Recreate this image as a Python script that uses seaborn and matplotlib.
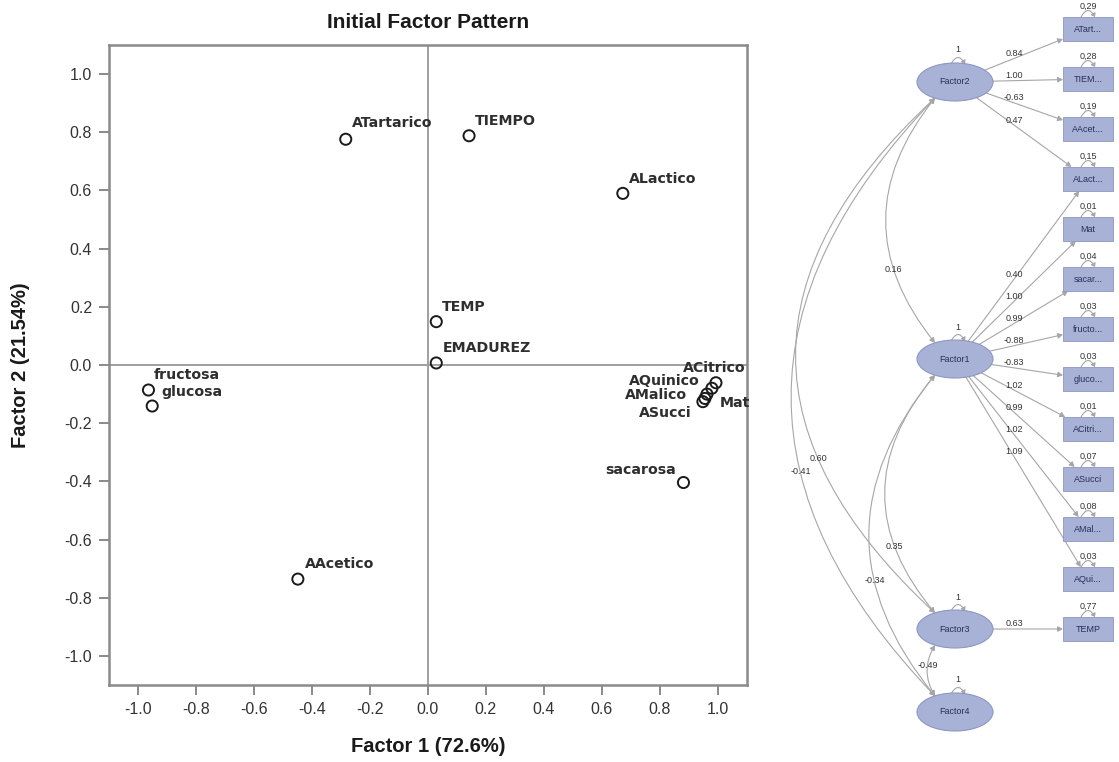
import numpy as np
import pandas as pd
import matplotlib
matplotlib.use("Agg")
import matplotlib.pyplot as plt
from matplotlib import font_manager
from matplotlib.patches import Ellipse, Rectangle, FancyArrowPatch
import seaborn as sns

# ---------------- data ----------------
variables = ["ATartarico", "TIEMPO", "ALactico", "TEMP", "EMADUREZ", "AAcetico",
             "fructosa", "glucosa", "sacarosa", "ACitrico", "Mat", "AQuinico",
             "AMalico", "ASucci"]
factor1 = [-0.283, 0.142, 0.672, 0.029, 0.029, -0.448,
           -0.963, -0.950, 0.881, 0.993, 0.979, 0.962, 0.955, 0.948]
factor2 = [0.776, 0.788, 0.590, 0.149, 0.007, -0.736,
           -0.086, -0.141, -0.404, -0.061, -0.080, -0.100, -0.115, -0.126]

ticks = [-1.0, -0.8, -0.6, -0.4, -0.2, 0.0, 0.2, 0.4, 0.6, 0.8, 1.0]
xlabel_text = "Factor 1 (72.6%)"
ylabel_text = "Factor 2 (21.54%)"
title_text = "Initial Factor Pattern"

# path diagram
factors = ["Factor2", "Factor1", "Factor3", "Factor4"]
indicators = ["ATart...", "TIEM...", "AAcet...", "ALact...", "Mat", "sacar...",
              "fructo...", "gluco...", "ACitri...", "ASucci", "AMal...", "AQui...", "TEMP"]
error_var = ["0,29", "0,28", "0,19", "0,15", "0,01", "0,04", "0,03", "0,03",
             "0,01", "0,07", "0,08", "0,03", "0,77"]
# (factor, indicator index, loading)
loadings = [("Factor2", 0, "0.84"), ("Factor2", 1, "1.00"), ("Factor2", 2, "-0.63"),
            ("Factor2", 3, "0.47"),
            ("Factor1", 3, "0.40"), ("Factor1", 4, "1.00"), ("Factor1", 5, "0.99"),
            ("Factor1", 6, "-0.88"), ("Factor1", 7, "-0.83"), ("Factor1", 8, "1.02"),
            ("Factor1", 9, "0.99"), ("Factor1", 10, "1.02"), ("Factor1", 11, "1.09"),
            ("Factor3", 12, "0.63")]
# (upper factor, lower factor, covariance)
covariances = [("Factor2", "Factor1", "0.16"), ("Factor2", "Factor3", "0.60"),
               ("Factor2", "Factor4", "-0.41"), ("Factor1", "Factor3", "0.35"),
               ("Factor1", "Factor4", "-0.34"), ("Factor3", "Factor4", "-0.49")]

# label offsets (pixels) and alignment for the point labels
label_style = {
    "ATartarico": (6, 16, "left"), "TIEMPO": (6, 15, "left"), "ALactico": (6, 14, "left"),
    "TEMP": (6, 15, "left"), "EMADUREZ": (6, 15, "left"), "AAcetico": (7, 15, "left"),
    "fructosa": (5, 15, "left"), "glucosa": (9, 14, "left"), "sacarosa": (-7, 13, "right"),
    "ACitrico": (-33, 15, "left"), "Mat": (8, -15, "left"), "AQuinico": (-7, 13, "right"),
    "AMalico": (-18, 3, "right"), "ASucci": (-11, -11, "right"),
}

# ---------------- style ----------------
sns.set_theme(style="white")
plt.rcParams["font.family"] = ["Liberation Sans", "DejaVu Sans"]
plt.rcParams["axes.unicode_minus"] = False

def has_font(name):
    try:
        font_manager.findfont(name, fallback_to_default=False)
        return True
    except Exception:
        return False

narrow = ["Liberation Sans Narrow", "Liberation Sans"] if has_font("Liberation Sans Narrow") else ["Liberation Sans"]

W, H = 1119, 762
fig = plt.figure(figsize=(W / 100, H / 100), dpi=100)
fig.patch.set_facecolor("white")

# ---------------- scatter (factor pattern) ----------------
L, R, T, B = 108.7, 747, 45, 685
ax = fig.add_axes([L / W, 1 - B / H, (R - L) / W, (B - T) / H])
df = pd.DataFrame({"variable": variables, "f1": factor1, "f2": factor2})

frame_col = "#8a8a8a"
ax.axhline(0, color="#a0a0a0", lw=1.4, zorder=1)
ax.axvline(0, color="#a0a0a0", lw=1.4, zorder=1)
sns.scatterplot(data=df, x="f1", y="f2", ax=ax, marker="o", s=64,
                facecolor="none", edgecolor="#1a1a1a", linewidth=1.4, zorder=3)

for _, row in df.iterrows():
    dx, dy, ha = label_style[row["variable"]]
    ax.annotate(row["variable"], (row["f1"], row["f2"]), xytext=(dx, dy),
                textcoords="offset pixels", ha=ha, va="center",
                fontsize=10.2, fontweight="bold", color="#2e2e2e",
                family=["DejaVu Sans"])

ax.set_xlim(-1.1, 1.1)
ax.set_ylim(-1.1, 1.1)
ax.set_xticks(ticks)
ax.set_yticks(ticks)
ax.set_xticklabels([f"{t:.1f}" for t in ticks])
ax.set_yticklabels([f"{t:.1f}" for t in ticks])
ax.tick_params(axis="both", direction="out", length=7, width=1.4, color=frame_col,
               labelsize=11.5, labelcolor="#333333", pad=5)
ax.tick_params(axis="both", which="both", bottom=True, left=True)
for sp in ax.spines.values():
    sp.set_color(frame_col)
    sp.set_linewidth(1.8)
ax.set_xlabel(xlabel_text, fontsize=14.5, fontweight="bold", family=narrow,
              color="#1a1a1a", labelpad=15)
ax.set_ylabel(ylabel_text, fontsize=14.5, fontweight="bold", family=narrow,
              color="#1a1a1a", labelpad=25)
ax.set_title(title_text, fontsize=15, fontweight="bold", color="#1a1a1a", pad=12)

# ---------------- path diagram ----------------
dg = fig.add_axes([760 / W, 0, (W - 760) / W, 1])
dg.set_xlim(760, W)
dg.set_ylim(H, 0)
dg.axis("off")

node_fill = "#a8b2d6"
node_edge = "#8c97c2"
node_text = "#27305a"
line_col = "#a6a6a6"
fx, fw, fh = 955, 76, 38
factor_y = {"Factor2": 82, "Factor1": 359, "Factor3": 629, "Factor4": 712}
bx, bw, bh = 1088, 50, 24
box_y = [29 + 50 * i for i in range(len(indicators))]

def self_loop(cx, top, label, label_dy):
    a = FancyArrowPatch((cx - 7, top), (cx + 7, top), arrowstyle="-|>,head_length=2,head_width=1.5",
                        connectionstyle="arc3,rad=-0.9", color=line_col, lw=0.8,
                        shrinkA=0, shrinkB=0, zorder=2)
    dg.add_patch(a)
    dg.text(cx, top - label_dy, label, ha="center", va="center", fontsize=6.5, color="#333333")

for name, cy in factor_y.items():
    dg.add_patch(Ellipse((fx, cy), fw, fh, facecolor=node_fill, edgecolor=node_edge, lw=0.8, zorder=4))
    dg.text(fx, cy, name, ha="center", va="center", fontsize=6.5, color=node_text, zorder=5)
    self_loop(fx + 3, cy - fh / 2 + 1, "1", 14)

for i, (name, cy) in enumerate(zip(indicators, box_y)):
    dg.add_patch(Rectangle((bx - bw / 2, cy - bh / 2), bw, bh, facecolor=node_fill,
                           edgecolor=node_edge, lw=0.6, zorder=4))
    dg.text(bx, cy, name, ha="center", va="center", fontsize=6.5, color=node_text, zorder=5)
    self_loop(bx, cy - bh / 2, error_var[i], 11)

def ellipse_edge(cx, cy, ux, uy):
    t = 1 / np.sqrt((ux / (fw / 2)) ** 2 + (uy / (fh / 2)) ** 2)
    return cx + t * ux, cy + t * uy

def box_edge(cx, cy, ux, uy):
    t = min((bw / 2) / max(abs(ux), 1e-9), (bh / 2) / max(abs(uy), 1e-9))
    return cx + t * ux, cy + t * uy

label_x = 1014
for fac, idx, val in loadings:
    cy0 = factor_y[fac]
    tx, ty = bx, box_y[idx]
    d = np.array([tx - fx, ty - cy0], float)
    u = d / np.linalg.norm(d)
    p0 = ellipse_edge(fx, cy0, u[0], u[1])
    p1 = box_edge(tx, ty, -u[0], -u[1])
    dg.add_patch(FancyArrowPatch(p0, p1, arrowstyle="-|>,head_length=3,head_width=1.6",
                                 color=line_col, lw=0.8, shrinkA=0, shrinkB=0, zorder=2))
    ly = cy0 + (label_x - fx) * d[1] / d[0]
    dg.text(label_x, ly - 5, val, ha="center", va="center", fontsize=6.5, color="#333333", zorder=3)

# arc bend and label position along each covariance curve
cov_shape = {("Factor2", "Factor1"): (0.40, 0.70), ("Factor2", "Factor3"): (0.54, 0.70),
             ("Factor2", "Factor4"): (0.48, 0.625), ("Factor1", "Factor3"): (0.42, 0.72),
             ("Factor1", "Factor4"): (0.41, 0.64), ("Factor3", "Factor4"): (0.30, 0.40)}
for up, lo, val in covariances:
    p0 = (fx - 20, factor_y[up] + fh / 2 - 3)
    p1 = (fx - 20, factor_y[lo] - fh / 2 + 3)
    rad, t = cov_shape[(up, lo)]
    dg.add_patch(FancyArrowPatch(p0, p1, arrowstyle="<|-|>,head_length=3,head_width=1.6",
                                 connectionstyle=f"arc3,rad={rad}", color=line_col, lw=0.8,
                                 shrinkA=0, shrinkB=0, zorder=1))
    # label placed on the quadratic curve (pixel space, y downward)
    x12, y12 = (p0[0] + p1[0]) / 2, (p0[1] + p1[1]) / 2
    dyd = -(p1[1] - p0[1])
    cxp = x12 + rad * dyd
    lx = (1 - t) ** 2 * p0[0] + 2 * t * (1 - t) * cxp + t ** 2 * p1[0]
    ly = (1 - t) ** 2 * p0[1] + 2 * t * (1 - t) * y12 + t ** 2 * p1[1]
    dg.text(lx, ly, val, ha="center", va="center", fontsize=6.5, color="#333333", zorder=3)

fig.savefig("out.png", dpi=100, facecolor="white")
